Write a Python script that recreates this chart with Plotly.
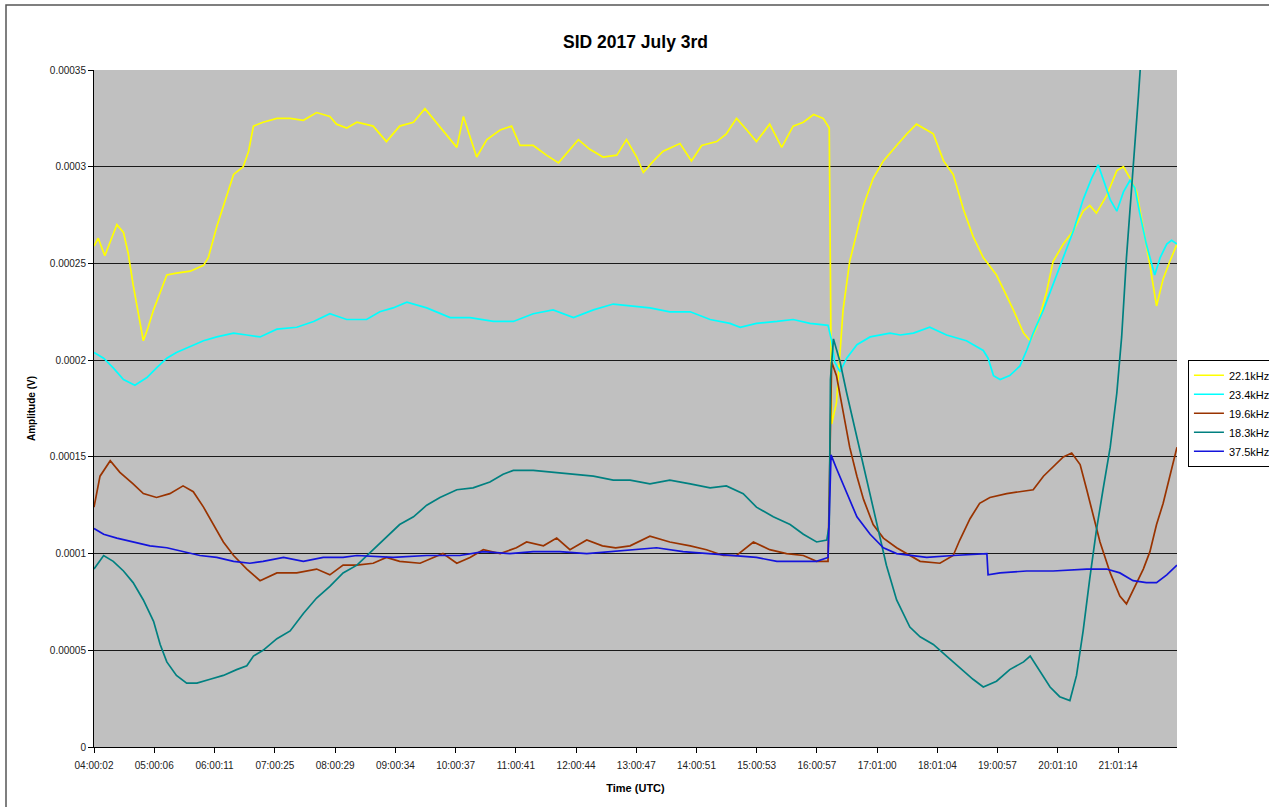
import plotly.graph_objects as go

# Values are in units of 1e-5 V; times are hours (UTC, decimal)
t_22_1 = [4.00, 4.07, 4.18, 4.38, 4.49, 4.57, 4.65, 4.74, 4.82, 4.90, 4.99, 5.10, 5.21, 5.37, 5.60, 5.82,
          5.90, 6.04, 6.15, 6.32, 6.48, 6.57, 6.65, 6.81, 7.04, 7.26, 7.48, 7.70, 7.92, 8.03, 8.20, 8.37,
          8.64, 8.86, 9.08, 9.31, 9.50, 9.69, 9.92, 10.03, 10.14, 10.25, 10.36, 10.53, 10.75, 10.94, 11.08,
          11.30, 11.52, 11.72, 11.88, 12.05, 12.24, 12.46, 12.69, 12.85,
          13.02, 13.13, 13.30, 13.46, 13.74, 13.93, 14.10, 14.35, 14.51, 14.68, 14.85, 15.01, 15.23, 15.43,
          15.62, 15.79, 15.96, 16.12, 16.22, 16.26, 16.34, 16.40, 16.45, 16.56, 16.68, 16.79, 16.95, 17.12, 17.34,
          17.51, 17.67, 17.84, 17.95, 18.12, 18.28, 18.45, 18.61, 18.78, 19.00, 19.11, 19.28, 19.45, 19.56,
          19.67, 19.83, 19.94, 20.11, 20.28, 20.44, 20.55, 20.66, 20.83, 21.00, 21.11, 21.22, 21.33, 21.44,
          21.55, 21.66, 21.77, 21.88, 22.00]
v_22_1 = [25.9, 26.3, 25.4, 27.0, 26.6, 25.5, 23.9, 22.4, 21.0, 21.7, 22.6, 23.5, 24.4, 24.5, 24.6, 24.9,
          25.3, 26.9, 28.0, 29.6, 30.0, 30.8, 32.1, 32.3, 32.5, 32.5, 32.4, 32.8, 32.6, 32.2, 32.0, 32.3,
          32.1, 31.3, 32.1, 32.3, 33.0, 32.3, 31.4, 31.0, 32.6, 31.5, 30.5, 31.4, 31.9, 32.1, 31.1,
          31.1, 30.6, 30.2, 30.8, 31.4, 30.9, 30.5, 30.6, 31.4,
          30.5, 29.7, 30.3, 30.8, 31.2, 30.3, 31.1, 31.3, 31.7, 32.5, 31.9, 31.3, 32.2, 31.0,
          32.1, 32.3, 32.7, 32.5, 32.0, 16.7, 17.8, 20.5, 22.6, 25.1, 26.7, 28.0, 29.4, 30.3, 31.1,
          31.7, 32.2, 31.9, 31.7, 30.3, 29.6, 27.8, 26.4, 25.3, 24.4, 23.7, 22.6, 21.4, 21.0,
          21.7, 23.5, 25.1, 26.0, 26.7, 27.7, 28.0, 27.6, 28.5, 29.8, 30.0, 29.4, 28.7, 26.9,
          24.9, 22.8, 24.2, 25.1, 26.0]

t_23_4 = [4.00, 4.16, 4.32, 4.49, 4.68, 4.88, 5.04, 5.21, 5.37, 5.60, 5.82, 6.04, 6.32, 6.54, 6.76, 7.04,
          7.37, 7.65, 7.92, 8.20, 8.53,
          8.75, 8.97, 9.20, 9.53, 9.92, 10.25, 10.64, 10.97, 11.30, 11.63, 11.97, 12.30, 12.63,
          12.91, 13.24, 13.57, 13.91, 14.24, 14.57, 14.74, 15.01, 15.35, 15.62, 15.90, 16.20, 16.26, 16.31,
          16.40, 16.51, 16.68, 16.90, 17.23,
          17.40, 17.62, 17.89, 18.17, 18.50, 18.78, 18.86, 18.95, 19.06, 19.22, 19.39, 19.50, 19.61, 19.78,
          19.94, 20.11, 20.28, 20.44, 20.58, 20.69, 20.77, 20.89, 21.00, 21.11, 21.22, 21.30, 21.38, 21.49,
          21.63, 21.72, 21.83, 21.91, 22.00]
v_23_4 = [20.4, 20.1, 19.6, 19.0, 18.7, 19.1, 19.6, 20.1, 20.4, 20.7, 21.0, 21.2, 21.4, 21.3, 21.2, 21.6,
          21.7, 22.0, 22.4, 22.1, 22.1,
          22.5, 22.7, 23.0, 22.7, 22.2, 22.2, 22.0, 22.0, 22.4, 22.6, 22.2, 22.6, 22.9,
          22.8, 22.7, 22.5, 22.5, 22.1, 21.9, 21.7, 21.9, 22.0, 22.1, 21.9, 21.8, 21.0, 19.9,
          19.4, 20.1, 20.8, 21.2, 21.4,
          21.3, 21.4, 21.7, 21.3, 21.0, 20.5, 20.1, 19.2, 19.0, 19.2, 19.7, 20.5, 21.4, 22.6,
          23.9, 25.3, 26.7, 28.3, 29.4, 30.1, 29.4, 28.3, 27.7, 28.7, 29.3, 28.9, 27.6, 26.0,
          24.4, 25.3, 26.0, 26.2, 26.0]

t_19_6 = [4.00, 4.10, 4.27, 4.43, 4.65, 4.82, 5.04, 5.26, 5.48, 5.65, 5.82, 5.98, 6.15, 6.32, 6.54, 6.76,
          7.04, 7.37, 7.70, 7.92, 8.14, 8.37,
          8.64, 8.86, 9.08, 9.42, 9.80, 10.03, 10.25, 10.47, 10.75, 11.02, 11.19, 11.47, 11.69, 11.91,
          12.19, 12.45, 12.67,
          12.91, 13.24, 13.57, 13.91, 14.18, 14.46, 14.68, 14.96, 15.23, 15.51, 15.79, 16.01, 16.20, 16.26,
          16.34, 16.45, 16.56, 16.68, 16.79, 16.95, 17.12, 17.34,
          17.73, 18.06, 18.28, 18.39, 18.56, 18.72, 18.89, 19.17, 19.39, 19.61, 19.78, 19.94, 20.11, 20.25,
          20.39, 20.50, 20.61, 20.72, 20.89, 21.05, 21.16, 21.27, 21.44, 21.55, 21.66, 21.77, 21.88, 22.00]
v_19_6 = [12.4, 14.0, 14.8, 14.2, 13.6, 13.1, 12.9, 13.1, 13.5, 13.2, 12.4, 11.5, 10.6, 9.9, 9.2, 8.6,
          9.0, 9.0, 9.2, 8.9, 9.4, 9.4,
          9.5, 9.8, 9.6, 9.5, 10.0, 9.5, 9.8, 10.2, 10.0, 10.3, 10.6, 10.4, 10.8, 10.2,
          10.7, 10.4, 10.3,
          10.4, 10.9, 10.6, 10.4, 10.2, 9.9, 9.9, 10.6, 10.2, 10.0, 9.9, 9.6, 9.6, 19.9,
          19.2, 17.4, 15.5, 14.0, 12.8, 11.5, 10.8, 10.3,
          9.6, 9.5, 9.9, 10.7, 11.8, 12.6, 12.9, 13.1, 13.2, 13.3, 14.0, 14.5, 15.0, 15.2,
          14.6, 13.3, 11.9, 10.6, 9.0, 7.8, 7.4, 8.1, 9.2, 10.1, 11.5, 12.6, 14.0, 15.5]

t_18_3 = [4.00, 4.16, 4.32, 4.49, 4.65, 4.82, 4.99, 5.10, 5.21, 5.37, 5.54, 5.71, 5.93, 6.15, 6.37, 6.54,
          6.65, 6.81, 7.04, 7.26, 7.48, 7.70, 7.92, 8.14, 8.37,
          8.64, 8.86, 9.08, 9.31, 9.53, 9.75, 10.03, 10.30, 10.58, 10.80, 10.97, 11.30, 11.63, 11.97,
          12.30, 12.63,
          12.91, 13.24, 13.57, 13.91, 14.24, 14.51, 14.79, 15.01, 15.29, 15.57, 15.79, 16.01, 16.18, 16.22,
          16.24, 16.29, 16.40, 16.51, 16.68, 16.84, 17.01, 17.17, 17.34,
          17.56, 17.73, 17.95, 18.17, 18.39, 18.61, 18.78, 19.00, 19.22, 19.45, 19.56, 19.72, 19.89, 20.05,
          20.22, 20.33, 20.44, 20.55, 20.66, 20.77, 20.89, 21.00, 21.08, 21.16, 21.25, 21.30, 21.36, 21.41]
v_18_3 = [9.2, 9.9, 9.6, 9.1, 8.5, 7.6, 6.5, 5.3, 4.4, 3.7, 3.3, 3.3, 3.5, 3.7, 4.0, 4.2,
          4.7, 5.0, 5.6, 6.0, 6.9, 7.7, 8.3, 9.0, 9.4,
          10.2, 10.9, 11.5, 11.9, 12.5, 12.9, 13.3, 13.4, 13.7, 14.1, 14.3, 14.3, 14.2, 14.1,
          14.0, 13.8,
          13.8, 13.6, 13.8, 13.6, 13.4, 13.5, 13.1, 12.4, 11.9, 11.5, 11.0, 10.6, 10.7, 11.5,
          19.0, 21.1, 19.9, 18.3, 16.0, 13.7, 11.5, 9.4, 7.6,
          6.2, 5.7, 5.3, 4.7, 4.1, 3.5, 3.1, 3.4, 4.0, 4.4, 4.7, 3.9, 3.1, 2.6,
          2.4, 3.7, 6.0, 8.7, 11.2, 13.3, 15.5, 18.3, 21.2, 25.3, 28.9, 31.4, 33.7, 36.0]

t_37_5 = [4.00, 4.16, 4.38, 4.65, 4.93, 5.21, 5.48, 5.76, 6.04, 6.32, 6.59, 6.81, 7.15, 7.48, 7.81, 8.14, 8.37,
          8.97, 9.53, 10.08, 10.47, 10.91, 11.30, 11.74, 12.19, 12.63,
          12.91, 13.35, 13.79, 14.24, 14.57, 15.01, 15.35, 15.68, 16.01, 16.20, 16.25, 16.34, 16.51, 16.68,
          16.90, 17.12, 17.34,
          17.84, 18.28, 18.84, 18.86, 19.06, 19.50, 19.94, 20.50, 20.83, 21.05, 21.27, 21.49, 21.66, 21.83, 22.00]
v_37_5 = [11.3, 11.0, 10.8, 10.6, 10.4, 10.3, 10.1, 9.9, 9.8, 9.6, 9.5, 9.6, 9.8, 9.6, 9.8, 9.8, 9.9,
          9.8, 9.9, 9.9, 10.1, 10.0, 10.1, 10.1, 10.0, 10.1,
          10.2, 10.3, 10.1, 10.0, 9.9, 9.8, 9.6, 9.6, 9.6, 9.8, 15.1, 14.4, 13.1, 11.9,
          11.0, 10.3, 10.0,
          9.8, 9.9, 10.0, 8.9, 9.0, 9.1, 9.1, 9.2, 9.2, 9.0, 8.6, 8.5, 8.5, 8.9, 9.4]

series_names = ["22.1kHz", "23.4kHz", "19.6kHz", "18.3kHz", "37.5kHz"]
series_colors = ["#FFFF00", "#00FFFF", "#993300", "#008080", "#1414DC"]
series_t = [t_22_1, t_23_4, t_19_6, t_18_3, t_37_5]
series_v = [v_22_1, v_23_4, v_19_6, v_18_3, v_37_5]

x_tick_labels = ["04:00:02", "05:00:06", "06:00:11", "07:00:25", "08:00:29", "09:00:34", "10:00:37",
                 "11:00:41", "12:00:44", "13:00:47", "14:00:51", "15:00:53", "16:00:57", "17:01:00",
                 "18:01:04", "19:00:57", "20:01:10", "21:01:14"]
y_tick_vals = [0, 0.00005, 0.0001, 0.00015, 0.0002, 0.00025, 0.0003, 0.00035]
y_tick_text = ["0", "0.00005", "0.0001", "0.00015", "0.0002", "0.00025", "0.0003", "0.00035"]

SCALE = 1e-5


def to_hours(label):
    h, m, s = (int(p) for p in label.split(":"))
    return h + m / 60 + s / 3600


x_tick_vals = [to_hours(l) for l in x_tick_labels]

FONT = "Liberation Sans, Arial, sans-serif"

fig = go.Figure()
for name, color, ts, vs in zip(series_names, series_colors, series_t, series_v):
    fig.add_trace(go.Scatter(
        x=ts, y=[v * SCALE for v in vs], name=name, mode="lines",
        line=dict(color=color, width=1.7),
    ))

fig.update_layout(
    width=1269, height=807,
    paper_bgcolor="white", plot_bgcolor="#C0C0C0",
    margin=dict(l=94, r=92, t=70, b=60, autoexpand=False),
    font=dict(family=FONT, size=10, color="#000000"),
    title=dict(text="<b>SID 2017 July 3rd</b>", x=(94 + 1177) / 2 / 1269, xanchor="center",
               y=1 - 42 / 807, yanchor="middle", font=dict(family=FONT, size=17.5, color="#000000")),
    legend=dict(x=1.0101, y=0.572, xanchor="left", yanchor="top", bgcolor="white",
                bordercolor="#000000", borderwidth=1, font=dict(family=FONT, size=11, color="#000000"),
                itemwidth=30, tracegroupgap=0),
    showlegend=True,
)

fig.update_xaxes(
    range=[4.0, 22.0], tickvals=x_tick_vals, ticktext=x_tick_labels,
    showgrid=False, zeroline=False, showline=True, linecolor="#000000", linewidth=1,
    ticks="outside", ticklen=5, tickcolor="#000000", tickfont=dict(size=10, color="#222222"),
    ticklabelstandoff=4,
    title=dict(text="<b>Time (UTC)</b>", font=dict(size=11, color="#000000"), standoff=14),
)
fig.update_yaxes(
    range=[0, 0.00035], tickvals=y_tick_vals, ticktext=y_tick_text,
    showgrid=True, gridcolor="#1a1a1a", gridwidth=1, zeroline=False,
    showline=True, linecolor="#000000", linewidth=1,
    ticks="outside", ticklen=5, tickcolor="#000000", tickfont=dict(size=10, color="#222222"),
    title=dict(text="<b>Amplitude (V)</b>", font=dict(size=10, color="#000000"), standoff=12),
)

# outer chart-area border
fig.add_shape(type="rect", xref="paper", yref="paper",
              x0=(6 - 94) / 1083, x1=(1275 - 94) / 1083,
              y0=(747 - 812) / 677, y1=(747 - 5) / 677,
              line=dict(color="#555555", width=1.5), fillcolor="rgba(0,0,0,0)", layer="below")

fig.write_html("out.html", config={"displayModeBar": False},
               post_script="document.body.style.margin='0';")
